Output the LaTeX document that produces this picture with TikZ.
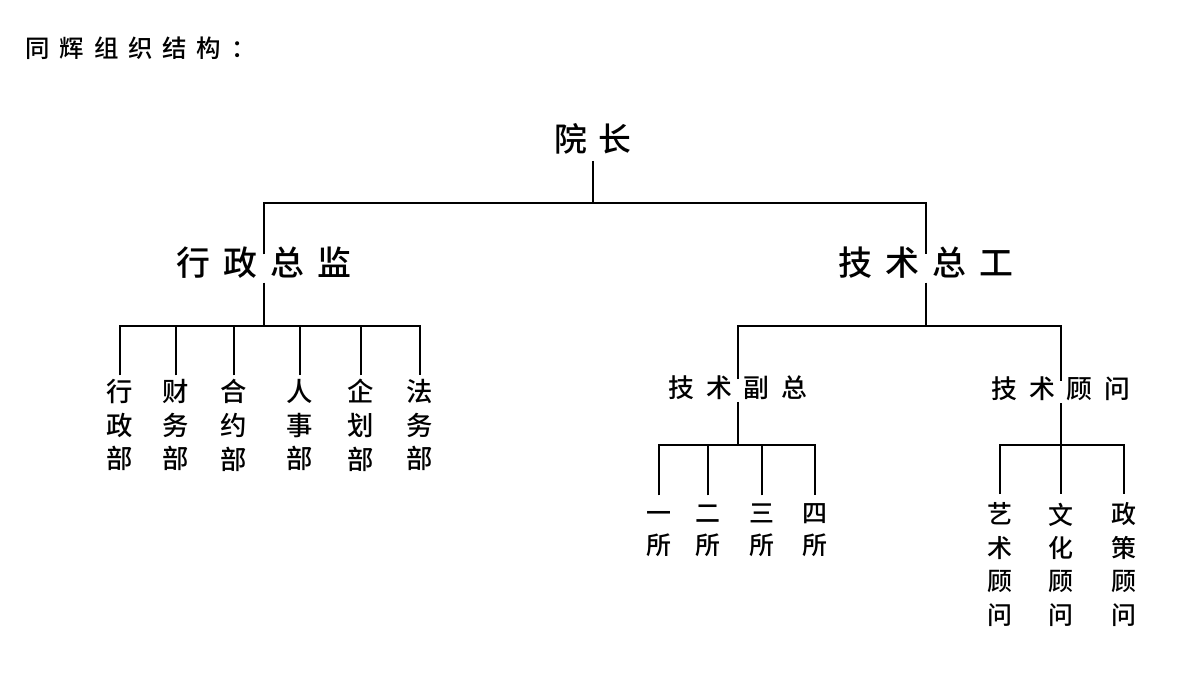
\documentclass[tikz,border=0pt]{standalone}
\usepackage{fontspec}
\setmainfont{Noto Sans CJK SC}[UprightFont={* Medium}]
\newcommand\gp[1]{\hspace{#1}}
\begin{document}
\begin{tikzpicture}[x=0.02cm,y=-0.02cm,line width=0.7pt,
  every node/.style={inner sep=0pt,outer sep=0pt},
  one/.style={text height=0.83em,text depth=0.07em,inner ysep=#1},
  one/.default=4pt,
  colL/.style={align=center,font=\fontsize{15}{19.3}\selectfont,inner ysep=2pt},
  colS/.style={align=center,font=\fontsize{14.2}{18.5}\selectfont,inner ysep=4.5pt},
  colA/.style={align=center,font=\fontsize{14.2}{19}\selectfont,inner ysep=5pt},
  link/.style={draw=black}]
\useasboundingbox (0,0) rectangle (1200,684);

% title
\node[anchor=west,font=\fontsize{13.9}{16}\selectfont] (title) at (25.5,48)
  {同\gp{5.6pt}辉\gp{5.6pt}组\gp{5.6pt}织\gp{5.6pt}结\gp{5.6pt}构\gp{5.6pt}：};

% level nodes
\node[one=4.5pt,font=\fontsize{18.7}{22}\selectfont] (yz) at (593,145) {院\gp{6.8pt}长};
\node[one=3.5pt,font=\fontsize{19.3}{23}\selectfont] (xz) at (264,268.5) {行\gp{7.4pt}政\gp{7.4pt}总\gp{7.4pt}监};
\node[one=3.5pt,font=\fontsize{19.3}{23}\selectfont] (jz) at (926,268.5) {技\gp{7.4pt}术\gp{7.4pt}总\gp{7.4pt}工};
\node[one=2pt,font=\fontsize{14.7}{18}\selectfont] (fz) at (738,390.5) {技\gp{6.6pt}术\gp{6.6pt}副\gp{6.6pt}总};
\node[one=2pt,font=\fontsize{14.7}{18}\selectfont] (gw) at (1061,392) {技\gp{6.6pt}术\gp{6.6pt}顾\gp{6.6pt}问};

% departments
\node[colL] (d1) at (120,425) {行\\政\\部};
\node[colL] (d2) at (176,425) {财\\务\\部};
\node[colL] (d3) at (234,425) {合\\约\\部};
\node[colL] (d4) at (300,425) {人\\事\\部};
\node[colL] (d5) at (361,425) {企\\划\\部};
\node[colL] (d6) at (420,425) {法\\务\\部};

% institutes
\node[colS] (s1) at (659,530) {\vphantom{四}一\\所};
\node[colS] (s2) at (708,530) {\vphantom{四}二\\所};
\node[colS] (s3) at (762,530) {\vphantom{四}三\\所};
\node[colS] (s4) at (815,530) {四\\所};

% advisors
\node[colA] (a1) at (1000,564.5) {艺\\术\\顾\\问};
\node[colA] (a2) at (1061,564.5) {文\\化\\顾\\问};
\node[colA] (a3) at (1124,564.5) {政\\策\\顾\\问};

% bar coordinates
\coordinate (b0) at (594,203);
\coordinate (b1) at (263,326);
\coordinate (b2) at (926,326);
\coordinate (b3) at (738,445);
\coordinate (b4) at (1061,445);

% connectors
\draw[link] (yz.south) -- (yz.south |- b0);
\draw[link] (xz.north) -- (xz.north |- b0) -- (jz.north |- b0) -- (jz.north);

\draw[link] (xz.south) -- (xz.south |- b1);
\draw[link] (d1.north) -- (d1.north |- b1) -- (d6.north |- b1) -- (d6.north);
\foreach \n in {d2,d3,d4,d5} \draw[link] (\n.north) -- (\n.north |- b1);

\draw[link] (jz.south) -- (jz.south |- b2);
\draw[link] (fz.north) -- (fz.north |- b2) -- (gw.north |- b2) -- (gw.north);

\draw[link] (fz.south) -- (fz.south |- b3);
\draw[link] (s1.north) -- (s1.north |- b3) -- (s4.north |- b3) -- (s4.north);
\foreach \n in {s2,s3} \draw[link] (\n.north) -- (\n.north |- b3);

\draw[link] (gw.south) -- (gw.south |- b4);
\draw[link] (a1.north) -- (a1.north |- b4) -- (a3.north |- b4) -- (a3.north);
\draw[link] (a2.north) -- (a2.north |- b4);
\end{tikzpicture}
\end{document}
